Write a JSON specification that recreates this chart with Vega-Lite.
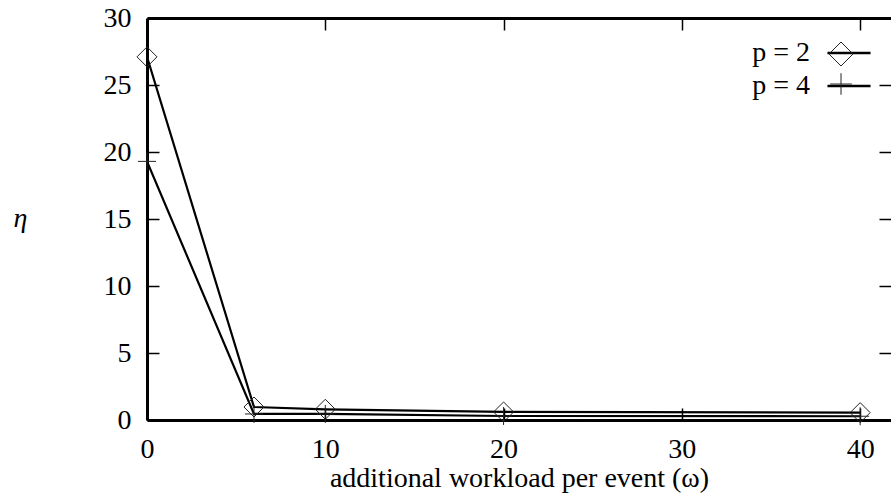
{
  "$schema": "https://vega.github.io/schema/vega-lite/v6.json",
  "width": 744,
  "height": 402,
  "autosize": "none",
  "padding": {"left": 147, "top": 18, "right": 0, "bottom": 80},
  "background": "white",
  "config": {
    "view": {"stroke": null},
    "font": "Liberation Serif",
    "axis": {"grid": false, "domainColor": "black", "tickColor": "black", "labelColor": "black", "titleColor": "black", "labelFont": "Liberation Serif", "titleFont": "Liberation Serif", "labelFontSize": 28, "titleFontSize": 28, "titleFontWeight": "normal", "domainWidth": 3, "tickWidth": 1.5, "tickSize": -12}
  },
  "data": {
    "values": [
      {"series": "p = 2", "x": 0, "y": 27.1},
      {"series": "p = 2", "x": 6, "y": 0.97},
      {"series": "p = 2", "x": 10, "y": 0.8},
      {"series": "p = 2", "x": 20, "y": 0.6},
      {"series": "p = 2", "x": 40, "y": 0.55},
      {"series": "p = 4", "x": 0, "y": 19.3},
      {"series": "p = 4", "x": 6, "y": 0.45},
      {"series": "p = 4", "x": 10, "y": 0.45},
      {"series": "p = 4", "x": 20, "y": 0.3},
      {"series": "p = 4", "x": 40, "y": 0.28}
    ]
  },
  "layer": [
    {
      "mark": {"type": "line", "strokeWidth": 2.2, "clip": true},
      "encoding": {
        "x": {"field": "x", "type": "quantitative", "scale": {"domain": [0, 41.73], "nice": false, "zero": false},
          "axis": {"orient": "bottom", "values": [0, 10, 20, 30, 40], "labelPadding": 27, "title": "additional workload per event (ω)", "titleY": 66, "titleBaseline": "alphabetic", "labelFlush": false}},
        "y": {"field": "y", "type": "quantitative", "scale": {"domain": [0, 30], "nice": false},
          "axis": {"orient": "left", "values": [0, 5, 10, 15, 20, 25, 30], "labelPadding": 28, "title": "η", "titleAngle": 0, "titleFontStyle": "italic", "titleX": -127, "titleY": 200, "titleAlign": "center", "titleBaseline": "middle", "labelFlush": false}},
        "color": {"field": "series", "type": "nominal", "scale": {"range": ["black", "black"]},
          "legend": {"orient": "none", "legendX": 685, "legendY": 18, "title": null, "symbolType": "M-1.39,0L1.39,0", "symbolSize": 961, "symbolStrokeWidth": 2.5, "labelFont": "Liberation Serif", "labelFontSize": 28, "labelColor": "black", "labelAlign": "right", "labelOffset": -56, "padding": 0, "rowPadding": 2}}
      }
    },
    {
      "mark": {"type": "point", "filled": false, "stroke": "#222", "strokeWidth": 1, "size": 400, "opacity": 1},
      "encoding": {
        "x": {"field": "x", "type": "quantitative", "axis": {"orient": "top", "values": [10, 20, 30, 40], "labels": false, "title": null}},
        "y": {"field": "y", "type": "quantitative", "axis": {"orient": "right", "values": [5, 10, 15, 20, 25], "labels": false, "title": null, "domain": false}},
        "shape": {"field": "series", "type": "nominal", "scale": {"range": ["M-1,0L0,-1L1,0L0,1Z", "M-0.9,0L0.9,0M0,-0.9L0,0.9"]},
          "legend": {"orient": "none", "legendX": 680, "legendY": 22, "title": null, "symbolSize": 576, "symbolStrokeWidth": 1, "symbolStrokeColor": "#222", "labelExpr": "''", "labelFontSize": 28, "padding": 0, "rowPadding": 2}}
      }
    }
  ],
  "resolve": {"axis": {"x": "independent", "y": "independent"}}
}
